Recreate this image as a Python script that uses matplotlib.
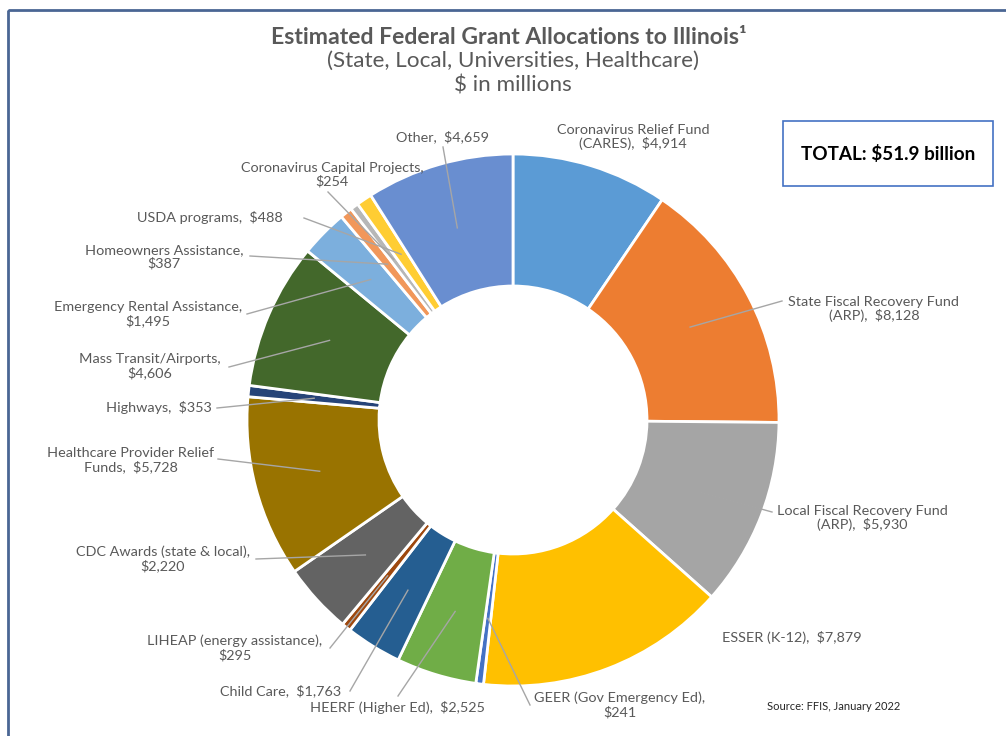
import numpy as np
import matplotlib.pyplot as plt
from matplotlib.patches import Rectangle

plt.rcParams['font.family'] = ['Lato', 'DejaVu Sans']

# data (clockwise from 12 o'clock), $ millions
names = [
    "Coronavirus Relief Fund\n(CARES)",
    "State Fiscal Recovery Fund\n(ARP)",
    "Local Fiscal Recovery Fund\n(ARP)",
    "ESSER (K-12)",
    "GEER (Gov Emergency Ed)",
    "HEERF (Higher Ed)",
    "Child Care",
    "LIHEAP (energy assistance)",
    "CDC Awards (state & local)",
    "Healthcare Provider Relief\nFunds",
    "Highways",
    "Mass Transit/Airports",
    "Emergency Rental Assistance",
    "Homeowners Assistance",
    "Coronavirus Capital Projects",
    "USDA programs",
    "Other",
]
values = [4914, 8128, 5930, 7879, 241, 2525, 1763, 295, 2220, 5728,
          353, 4606, 1495, 387, 254, 488, 4659]
# label break: True -> value goes on its own line
value_newline = [False, False, False, False, True, False, False, True, True,
                 False, False, True, True, True, True, False, False]

colors = ["#5B9BD5", "#ED7D31", "#A5A5A5", "#FFC000", "#4472C4", "#70AD47",
          "#255E91", "#9E480E", "#636363", "#997300", "#264478", "#43682B",
          "#7CAFDD", "#F1975A", "#B7B7B7", "#FFCD33", "#698ED0"]

# layout in pixels (y down): label centre, leader start (None = no leader)
label_pos = [(633, 137), (874, 309), (862, 518), (792, 637), (620, 705),
             (397, 707), (281, 691), (235, 648), (163, 559), (131, 460),
             (159, 408), (150, 366), (148, 314), (164, 257), (332, 175),
             (210, 218), (443, 137)]
leader_start = [None, (782, 301), (772, 512), None, (530, 705),
                (398, 696), (350, 691), (330, 648), (256, 559), (218, 459),
                (217, 408), (229, 367), (247, 314), (250, 256), (328, 192),
                (304, 218), (443, 147)]

W, H = 1006, 736
CX, CY, R_OUT, R_IN = 513, 420, 266, 134

fig = plt.figure(figsize=(W / 100, H / 100), dpi=100)
ax = fig.add_axes([0, 0, 1, 1])

wedges, _ = ax.pie(values, colors=colors, startangle=-90, counterclock=True,
                   center=(CX, CY), radius=R_OUT,
                   wedgeprops=dict(width=R_OUT - R_IN, edgecolor="white", linewidth=2))
ax.set_xlim(0, W)
ax.set_ylim(H, 0)
ax.set_aspect("equal")
ax.axis("off")

r_mid = (R_OUT + R_IN) / 2
for w, name, v, nl, pos, st in zip(wedges, names, values, value_newline,
                                    label_pos, leader_start):
    sep = ",\n" if nl else ",  "
    txt = f"{name}{sep}${v:,}"
    ax.text(pos[0], pos[1], txt, ha="center", va="center", fontsize=10.4,
            color="#595959", linespacing=1.1)
    if st is not None:
        ang = np.deg2rad((w.theta1 + w.theta2) / 2)
        px = CX + r_mid * np.cos(ang)
        py = CY + r_mid * np.sin(ang)
        ax.plot([st[0], px], [st[1], py], color="#A6A6A6", lw=1)

# titles
ax.text(509, 37, "Estimated Federal Grant Allocations to Illinois\u00b9",
        ha="center", va="center", fontsize=16.6, fontweight="bold", color="#595959")
ax.text(513, 61, "(State, Local, Universities, Healthcare)",
        ha="center", va="center", fontsize=16.2, color="#595959")
ax.text(513, 85, "$ in millions", ha="center", va="center", fontsize=16.2,
        color="#595959")

# total box
ax.add_patch(Rectangle((783, 121), 210, 65, facecolor="white",
                       edgecolor="#4472C4", lw=1.2))
ax.text(888, 154, f"TOTAL: ${sum(values) / 1000:.1f} billion", ha="center",
        va="center", fontsize=13.6, fontweight="bold", color="black")

ax.text(834, 707, "Source: FFIS, January 2022", ha="center", va="center",
        fontsize=8, color="#262626")

# outer frame
ax.add_patch(Rectangle((8, 10), 1200, 900, facecolor="none",
                       edgecolor="#4A6694", lw=2, clip_on=False))

fig.savefig("out.png", dpi=100)
